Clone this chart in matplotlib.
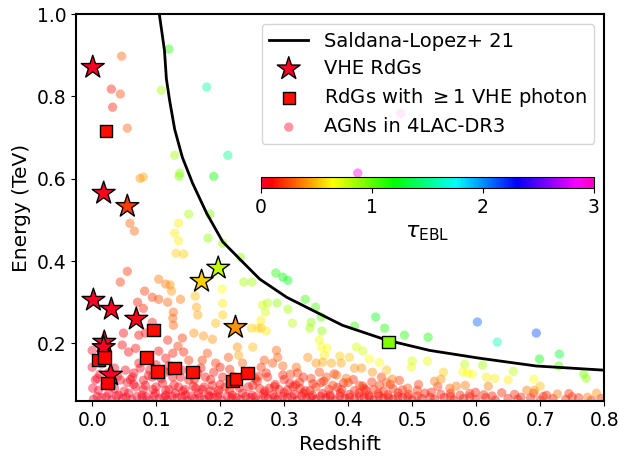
import matplotlib
matplotlib.use('Agg')
import matplotlib.pyplot as plt
import numpy as np

# tau = 1 horizon (Saldana-Lopez+ 21)
curve_z = [0.105, 0.113, 0.116, 0.121, 0.129, 0.141, 0.157, 0.179, 0.204, 0.235, 0.262, 0.304, 0.391, 0.460, 0.527, 0.605, 0.694, 0.799]
curve_e = [1.000, 0.912, 0.843, 0.791, 0.720, 0.652, 0.589, 0.516, 0.447, 0.398, 0.356, 0.312, 0.244, 0.208, 0.183, 0.164, 0.145, 0.135]

# VHE radio galaxies (stars)
star_z = [0.001, 0.018, 0.055, 0.002, 0.030, 0.069, 0.019, 0.018, 0.029, 0.197, 0.171, 0.224]
star_e = [0.871, 0.565, 0.533, 0.305, 0.283, 0.259, 0.203, 0.190, 0.123, 0.383, 0.351, 0.239]
star_tau = [0.02, 0.03, 0.23, 0.01, 0.02, 0.04, 0.02, 0.02, 0.02, 0.78, 0.55, 0.42]

# RdGs with >= 1 VHE photon (squares)
sq_z = [0.022, 0.010, 0.019, 0.024, 0.096, 0.085, 0.102, 0.129, 0.157, 0.219, 0.225, 0.243, 0.463]
sq_e = [0.716, 0.159, 0.166, 0.103, 0.232, 0.166, 0.132, 0.140, 0.130, 0.108, 0.113, 0.128, 0.203]
sq_tau = [0.12, 0.1, 0.1, 0.1, 0.12, 0.12, 0.12, 0.12, 0.12, 0.12, 0.12, 0.12, 0.92]

# 4LAC-DR3 AGNs: lowest energy rows
floor_z = [0.002, 0.015, 0.030, 0.048, 0.062, 0.078, 0.090, 0.105, 0.118, 0.133, 0.148, 0.160, 0.175, 0.190, 0.203, 0.218, 0.232, 0.247,
           0.260, 0.275, 0.290, 0.305, 0.320, 0.335, 0.350, 0.365, 0.380, 0.395, 0.410, 0.425, 0.440, 0.455, 0.470, 0.485, 0.500, 0.515,
           0.535, 0.550, 0.565, 0.580, 0.600, 0.615, 0.630, 0.650, 0.665, 0.685, 0.700, 0.720, 0.740, 0.760, 0.780, 0.795]
floor_e = [0.064, 0.068, 0.062, 0.066, 0.064, 0.068, 0.062, 0.066, 0.064, 0.068, 0.062, 0.066, 0.064, 0.068, 0.062, 0.066, 0.064, 0.068,
           0.062, 0.066, 0.064, 0.068, 0.062, 0.066, 0.064, 0.068, 0.062, 0.066, 0.064, 0.068, 0.062, 0.066, 0.064, 0.068, 0.062, 0.066,
           0.064, 0.068, 0.062, 0.066, 0.064, 0.068, 0.062, 0.066, 0.064, 0.068, 0.062, 0.066, 0.064, 0.068, 0.062, 0.066]
floor_tau = [0.02, 0.02, 0.02, 0.02, 0.02, 0.02, 0.02, 0.03, 0.03, 0.03, 0.04, 0.04, 0.04, 0.04, 0.05, 0.05, 0.05, 0.05,
             0.06, 0.06, 0.06, 0.06, 0.07, 0.07, 0.07, 0.07, 0.08, 0.08, 0.08, 0.08, 0.09, 0.09, 0.09, 0.10, 0.10, 0.10,
             0.11, 0.11, 0.11, 0.12, 0.12, 0.12, 0.13, 0.13, 0.13, 0.14, 0.14, 0.14, 0.15, 0.15, 0.16, 0.16]

row2_z = [0.026, 0.041, 0.057, 0.078, 0.099, 0.115, 0.130, 0.146, 0.166, 0.182, 0.197, 0.219, 0.235, 0.250,
          0.268, 0.283, 0.300, 0.316, 0.330, 0.344, 0.360, 0.372, 0.388, 0.402, 0.417, 0.432, 0.447, 0.462, 0.478, 0.495, 0.520,
          0.545, 0.560, 0.575, 0.590, 0.612, 0.640, 0.660, 0.690, 0.710, 0.745]
row2_e = [0.079, 0.074, 0.079, 0.074, 0.079, 0.074, 0.079, 0.074, 0.079, 0.074, 0.079, 0.074, 0.079, 0.074,
          0.078, 0.075, 0.080, 0.076, 0.079, 0.074, 0.078, 0.075, 0.080, 0.076, 0.079, 0.074, 0.078, 0.075, 0.080, 0.076, 0.079,
          0.076, 0.079, 0.074, 0.078, 0.075, 0.080, 0.076, 0.079, 0.074, 0.078]
row2_tau = [0.03, 0.03, 0.03, 0.04, 0.04, 0.04, 0.05, 0.05, 0.05, 0.06, 0.06, 0.07, 0.07, 0.07,
            0.08, 0.08, 0.08, 0.09, 0.09, 0.09, 0.10, 0.10, 0.10, 0.11, 0.11, 0.11, 0.12, 0.12, 0.12, 0.13, 0.13,
            0.15, 0.15, 0.15, 0.16, 0.16, 0.17, 0.17, 0.18, 0.18, 0.19]

row3_z = [0.008, 0.022, 0.038, 0.053, 0.070, 0.085, 0.097, 0.112, 0.125, 0.140, 0.155, 0.168, 0.183, 0.196, 0.211, 0.225, 0.240,
          0.255, 0.270, 0.285, 0.298, 0.312, 0.328, 0.342, 0.357, 0.372, 0.387, 0.402, 0.418, 0.433, 0.448, 0.463, 0.478, 0.493,
          0.508, 0.528, 0.560, 0.590, 0.625, 0.670, 0.705, 0.750]
row3_e = [0.071, 0.070, 0.072, 0.069, 0.071, 0.070, 0.072, 0.069, 0.071, 0.070, 0.072, 0.069, 0.071, 0.070, 0.072, 0.069, 0.071,
          0.070, 0.072, 0.069, 0.071, 0.070, 0.072, 0.069, 0.071, 0.070, 0.072, 0.069, 0.071, 0.070, 0.072, 0.069, 0.071, 0.070,
          0.072, 0.069, 0.071, 0.070, 0.072, 0.069, 0.071, 0.070]
row3_tau = [0.02, 0.02, 0.02, 0.03, 0.03, 0.03, 0.03, 0.04, 0.04, 0.04, 0.04, 0.05, 0.05, 0.05, 0.06, 0.06, 0.06,
            0.06, 0.07, 0.07, 0.07, 0.08, 0.08, 0.08, 0.09, 0.09, 0.09, 0.10, 0.10, 0.10, 0.11, 0.11, 0.11, 0.12,
            0.12, 0.12, 0.13, 0.13, 0.14, 0.15, 0.16, 0.17]

row4_z = [0.010, 0.020, 0.035, 0.050, 0.065, 0.080, 0.100, 0.115, 0.128, 0.142, 0.158, 0.172, 0.185, 0.200, 0.215, 0.230,
          0.270, 0.285, 0.305, 0.318, 0.333, 0.370, 0.383, 0.410, 0.425, 0.455, 0.485]
row4_e = [0.086, 0.098, 0.090, 0.084, 0.100, 0.088, 0.094, 0.086, 0.099, 0.084, 0.096, 0.088, 0.084, 0.100, 0.086, 0.092,
          0.084, 0.095, 0.087, 0.099, 0.085, 0.088, 0.093, 0.085, 0.090, 0.084, 0.087]
row4_tau = [0.03, 0.03, 0.03, 0.04, 0.04, 0.04, 0.05, 0.05, 0.06, 0.06, 0.07, 0.07, 0.07, 0.08, 0.08, 0.09,
            0.10, 0.11, 0.11, 0.12, 0.12, 0.13, 0.14, 0.14, 0.15, 0.16, 0.17]

row5_z = [0.008, 0.025, 0.040, 0.060, 0.075, 0.088, 0.100, 0.108, 0.122, 0.138, 0.155, 0.170, 0.185, 0.200, 0.220,
          0.015, 0.030, 0.065, 0.080, 0.100, 0.120, 0.160]
row5_e = [0.115, 0.128, 0.120, 0.112, 0.140, 0.122, 0.148, 0.114, 0.132, 0.118, 0.124, 0.140, 0.112, 0.142, 0.120,
          0.150, 0.108, 0.128, 0.110, 0.122, 0.146, 0.112]
row5_tau = [0.03, 0.03, 0.04, 0.05, 0.06, 0.06, 0.07, 0.07, 0.08, 0.09, 0.10, 0.11, 0.12, 0.13, 0.14,
            0.03, 0.04, 0.05, 0.06, 0.07, 0.09, 0.10]

row6_z = [0.258, 0.272, 0.286, 0.300, 0.314, 0.330, 0.345, 0.362, 0.378, 0.393, 0.408, 0.423, 0.437, 0.452, 0.466, 0.480, 0.510, 0.540]
row6_e = [0.108, 0.128, 0.100, 0.112, 0.095, 0.118, 0.102, 0.108, 0.126, 0.104, 0.112, 0.096, 0.106, 0.118, 0.100, 0.110, 0.100, 0.095]
row6_tau = [0.12, 0.15, 0.12, 0.14, 0.12, 0.16, 0.14, 0.16, 0.20, 0.16, 0.18, 0.15, 0.18, 0.22, 0.18, 0.20, 0.20, 0.20]

# low redshift, below ~0.4 TeV
low_z = [0.000, 0.000, 0.005, 0.001, 0.052, 0.044, 0.063, 0.073, 0.068, 0.094, 0.083, 0.110, 0.126, 0.135, 0.151, 0.162, 0.177, 0.188,
         0.204, 0.208, 0.244, 0.012, 0.035, 0.090, 0.115, 0.140, 0.165, 0.190, 0.215, 0.240, 0.030, 0.055, 0.095, 0.120, 0.145, 0.175,
         0.198, 0.225, 0.255, 0.262, 0.292, 0.325, 0.340, 0.358, 0.390, 0.440, 0.470, 0.260, 0.310, 0.355, 0.400, 0.460]
low_e = [0.183, 0.142, 0.111, 0.091, 0.135, 0.111, 0.118, 0.152, 0.094, 0.118, 0.098, 0.103, 0.118, 0.094, 0.111, 0.091, 0.118, 0.098,
         0.118, 0.094, 0.094, 0.125, 0.140, 0.135, 0.130, 0.135, 0.128, 0.130, 0.137, 0.130, 0.096, 0.105, 0.088, 0.088, 0.088, 0.094,
         0.086, 0.105, 0.115, 0.090, 0.088, 0.090, 0.085, 0.105, 0.088, 0.088, 0.090, 0.120, 0.125, 0.130, 0.105, 0.105]
low_tau = [0.02, 0.02, 0.02, 0.02, 0.05, 0.04, 0.05, 0.06, 0.04, 0.06, 0.05, 0.06, 0.08, 0.06, 0.08, 0.07, 0.10, 0.08,
           0.12, 0.10, 0.10, 0.03, 0.04, 0.07, 0.08, 0.10, 0.12, 0.14, 0.16, 0.18, 0.03, 0.05, 0.06, 0.07, 0.08, 0.09,
           0.10, 0.12, 0.14, 0.12, 0.12, 0.13, 0.14, 0.18, 0.16, 0.18, 0.20, 0.16, 0.20, 0.24, 0.22, 0.26]

mid_z = [0.237, 0.250, 0.203, 0.055, 0.044, 0.104, 0.115, 0.122, 0.124, 0.082, 0.094, 0.104, 0.071, 0.080, 0.118, 0.138, 0.127, 0.126,
         0.127, 0.161, 0.163, 0.165, 0.204, 0.204, 0.193, 0.159, 0.174, 0.188, 0.258, 0.251, 0.227, 0.229, 0.235, 0.073, 0.049, 0.047,
         0.068, 0.057, 0.083, 0.094, 0.141, 0.134, 0.118, 0.104, 0.143, 0.126, 0.115, 0.151, 0.172, 0.180, 0.193, 0.213]
mid_e = [0.349, 0.349, 0.332, 0.375, 0.349, 0.356, 0.344, 0.342, 0.327, 0.327, 0.312, 0.307, 0.300, 0.285, 0.300, 0.307, 0.276, 0.261,
         0.244, 0.315, 0.288, 0.269, 0.297, 0.269, 0.249, 0.225, 0.218, 0.210, 0.237, 0.191, 0.191, 0.171, 0.152, 0.220, 0.225, 0.196,
         0.188, 0.179, 0.225, 0.251, 0.213, 0.193, 0.208, 0.181, 0.179, 0.176, 0.164, 0.159, 0.159, 0.176, 0.152, 0.166]
mid_tau = [0.85, 0.85, 0.65, 0.20, 0.20, 0.35, 0.35, 0.40, 0.40, 0.20, 0.20, 0.25, 0.15, 0.15, 0.30, 0.35, 0.30, 0.30,
           0.30, 0.50, 0.45, 0.45, 0.60, 0.55, 0.50, 0.40, 0.40, 0.40, 0.60, 0.50, 0.40, 0.45, 0.30, 0.10, 0.08, 0.08,
           0.10, 0.08, 0.12, 0.15, 0.20, 0.20, 0.15, 0.10, 0.15, 0.15, 0.10, 0.20, 0.20, 0.25, 0.20, 0.25]

high_z = [0.120, 0.046, 0.030, 0.044, 0.032, 0.108, 0.179, 0.055, 0.129, 0.212, 0.137, 0.136, 0.190, 0.075, 0.080, 0.415, 0.482,
          0.059, 0.066, 0.135, 0.129, 0.135, 0.131, 0.143, 0.181, 0.204, 0.232, 0.151, 0.184]
high_e = [0.915, 0.898, 0.818, 0.806, 0.774, 0.815, 0.823, 0.723, 0.657, 0.657, 0.614, 0.606, 0.606, 0.601, 0.604, 0.614, 0.759,
          0.492, 0.473, 0.492, 0.468, 0.449, 0.419, 0.417, 0.456, 0.443, 0.409, 0.514, 0.514]
high_tau = [1.15, 0.30, 0.15, 0.25, 0.15, 0.85, 1.55, 0.30, 0.85, 1.50, 0.90, 0.95, 1.20, 0.40, 0.45, 2.90, 2.90,
            0.30, 0.30, 0.60, 0.60, 0.60, 0.55, 0.55, 0.90, 0.90, 0.90, 0.85, 0.95]

far_z = [0.287, 0.298, 0.306, 0.266, 0.274, 0.271, 0.289, 0.306, 0.333, 0.349, 0.358, 0.313, 0.342, 0.340, 0.359, 0.410, 0.443, 0.457,
         0.488, 0.525, 0.264, 0.264, 0.272, 0.249, 0.355, 0.358, 0.367, 0.363, 0.413, 0.423, 0.433, 0.449, 0.460, 0.500, 0.499, 0.387,
         0.402, 0.374, 0.389, 0.350, 0.360, 0.337, 0.410, 0.421, 0.438, 0.469, 0.288, 0.269, 0.290, 0.282, 0.298, 0.319, 0.264, 0.274,
         0.298, 0.321, 0.324, 0.342, 0.366, 0.382, 0.397, 0.309, 0.251, 0.277, 0.350, 0.376, 0.418, 0.449, 0.493, 0.508, 0.428]
far_e = [0.371, 0.361, 0.353, 0.293, 0.298, 0.276, 0.298, 0.283, 0.307, 0.288, 0.264, 0.249, 0.251, 0.237, 0.230, 0.242, 0.264, 0.237,
         0.220, 0.215, 0.256, 0.237, 0.230, 0.237, 0.208, 0.191, 0.188, 0.171, 0.191, 0.181, 0.162, 0.154, 0.135, 0.157, 0.142, 0.169,
         0.166, 0.152, 0.152, 0.152, 0.154, 0.166, 0.140, 0.140, 0.130, 0.113, 0.183, 0.159, 0.166, 0.152, 0.145, 0.142, 0.142, 0.118,
         0.123, 0.128, 0.106, 0.115, 0.118, 0.123, 0.115, 0.103, 0.098, 0.091, 0.094, 0.098, 0.098, 0.098, 0.091, 0.086, 0.086]
far_tau = [1.15, 1.20, 1.25, 0.75, 0.80, 0.75, 0.90, 0.85, 1.10, 1.05, 1.00, 0.80, 0.90, 0.85, 0.90, 1.10, 1.25, 1.15,
           1.15, 1.15, 0.60, 0.50, 0.60, 0.55, 0.70, 0.65, 0.65, 0.60, 0.75, 0.75, 0.65, 0.65, 0.50, 0.75, 0.70, 0.55,
           0.55, 0.45, 0.45, 0.40, 0.45, 0.40, 0.40, 0.40, 0.40, 0.35, 0.30, 0.25, 0.30, 0.25, 0.30, 0.30, 0.20, 0.15,
           0.15, 0.20, 0.15, 0.20, 0.25, 0.30, 0.30, 0.10, 0.10, 0.10, 0.20, 0.20, 0.20, 0.20, 0.25, 0.20, 0.15]

edge_z = [0.602, 0.694, 0.633, 0.730, 0.699, 0.729, 0.768, 0.772, 0.524, 0.582, 0.610, 0.658, 0.579, 0.587, 0.594, 0.549, 0.616,
          0.629, 0.650, 0.690, 0.700, 0.691, 0.535, 0.545, 0.559, 0.569, 0.583, 0.619, 0.679, 0.727, 0.774, 0.788, 0.530, 0.599]
edge_e = [0.252, 0.225, 0.203, 0.174, 0.162, 0.145, 0.125, 0.115, 0.157, 0.149, 0.147, 0.132, 0.130, 0.128, 0.125, 0.130, 0.118,
          0.115, 0.111, 0.113, 0.096, 0.086, 0.108, 0.113, 0.091, 0.096, 0.098, 0.096, 0.086, 0.077, 0.069, 0.079, 0.081, 0.081]
edge_tau = [2.10, 2.15, 1.60, 1.30, 1.20, 1.05, 0.95, 0.90, 0.70, 0.80, 0.85, 0.80, 0.65, 0.65, 0.65, 0.55, 0.60,
            0.60, 0.60, 0.65, 0.50, 0.40, 0.35, 0.40, 0.30, 0.35, 0.35, 0.35, 0.35, 0.35, 0.35, 0.40, 0.15, 0.15]

agn_z = np.concatenate([floor_z, row2_z, row3_z, row4_z, row5_z, row6_z, low_z, mid_z, high_z, far_z, edge_z])
agn_e = np.concatenate([floor_e, row2_e, row3_e, row4_e, row5_e, row6_e, low_e, mid_e, high_e, far_e, edge_e])
agn_tau = np.concatenate([floor_tau, row2_tau, row3_tau, row4_tau, row5_tau, row6_tau, low_tau, mid_tau, high_tau, far_tau, edge_tau])

cmap = plt.get_cmap('gist_rainbow')
norm = plt.Normalize(vmin=0, vmax=3)

fig = plt.figure(figsize=(6.19, 4.58), dpi=100)
ax = fig.add_axes([0.123, 0.1245, 0.853, 0.8445])

agn = ax.scatter(agn_z, agn_e, c=agn_tau, cmap=cmap, norm=norm, s=45, alpha=0.42,
                 edgecolors='none', zorder=1, label='AGNs in 4LAC-DR3')
line, = ax.plot(curve_z, curve_e, color='black', lw=2, zorder=2, label='Saldana-Lopez+ 21')
stars = ax.scatter(star_z, star_e, c=star_tau, cmap=cmap, norm=norm, marker='*', s=300,
                   edgecolors='black', linewidths=1, zorder=3, label='VHE RdGs')
squares = ax.scatter(sq_z, sq_e, c=sq_tau, cmap=cmap, norm=norm, marker='s', s=80,
                     edgecolors='black', linewidths=1, zorder=4, label=r'RdGs with $\geq 1$ VHE photon')

ax.set_xlim(-0.025, 0.8)
ax.set_ylim(0.06, 1.0)
ax.set_xlabel('Redshift', fontsize=14.5)
ax.set_ylabel('Energy (TeV)', fontsize=14.5)
ax.tick_params(labelsize=13.5)
for sp in ax.spines.values():
    sp.set_linewidth(1.5)

leg = ax.legend(handles=[line, stars, squares, agn], loc='upper right', fontsize=14,
                borderaxespad=0.5, labelspacing=0.42)
leg.set_zorder(5)

cax = ax.inset_axes([0.35, 0.55, 0.63, 0.029])
sm = matplotlib.cm.ScalarMappable(norm=norm, cmap=cmap)
cb = fig.colorbar(sm, cax=cax, orientation='horizontal', ticks=[0, 1, 2, 3])
cb.ax.tick_params(labelsize=13.5)
cb.set_label(r'$\tau_{\rm EBL}$', fontsize=16)

fig.savefig('out.png', dpi=100)
